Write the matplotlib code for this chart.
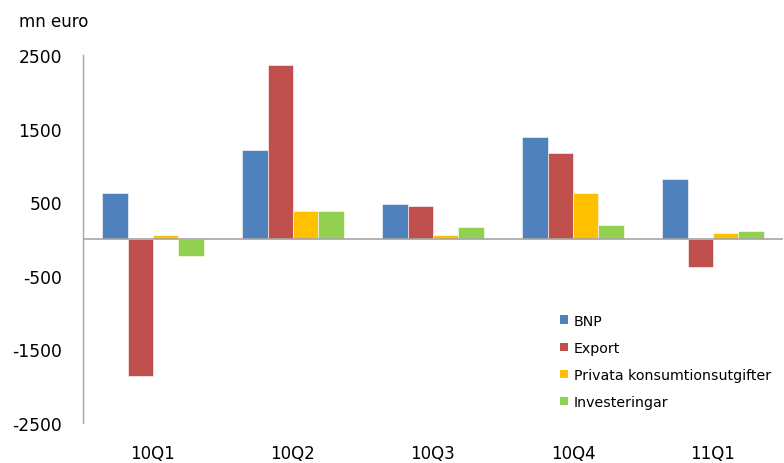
import matplotlib
matplotlib.use("Agg")
import matplotlib.pyplot as plt
import numpy as np
from matplotlib.patches import Patch

categories = ["10Q1", "10Q2", "10Q3", "10Q4", "11Q1"]
series_names = ["BNP", "Export", "Privata konsumtionsutgifter", "Investeringar"]
bnp = [630, 1210, 470, 1390, 820]
export = [-1860, 2370, 450, 1170, -380]
privata = [60, 380, 57, 630, 84]
invest = [-225, 380, 166, 188, 102]
colors = ["#4F81BD", "#C0504D", "#FFC000", "#92D050"]
yticks = [-2500, -1500, -500, 500, 1500, 2500]

fig = plt.figure(figsize=(7.84, 4.64), dpi=100)
ax = fig.add_axes([83/784, 40/464, 700/784, 368/464])

x = np.arange(len(categories))
w = 1 / 5.5
all_series = [bnp, export, privata, invest]
for i, (vals, c) in enumerate(zip(all_series, colors)):
    ax.bar(x + (i - 1.5) * w, vals, width=w, color=c, edgecolor="white", linewidth=0.4, zorder=2)

ax.set_xlim(-0.5, len(categories) - 0.5)
ax.set_ylim(-2500, 2500)
ax.axhline(0, color="#A6A6A6", linewidth=1.2, zorder=3)
ax.set_yticks(yticks)
ax.set_yticklabels([str(v) for v in yticks], fontsize=12.3)
ax.set_xticks(x)
ax.set_xticklabels(categories, fontsize=12)
ax.tick_params(axis="y", length=0, pad=15)
ax.tick_params(axis="x", length=0, pad=15)
for s in ["top", "right", "bottom"]:
    ax.spines[s].set_visible(False)
ax.spines["left"].set_color("#A6A6A6")
ax.spines["left"].set_linewidth(1.0)

fig.text(19/784, 1 - 22/464, "mn euro", fontsize=12, va="center", ha="left")

handles = [Patch(facecolor=c, edgecolor="none") for c in colors]
leg = ax.legend(handles, series_names, loc="upper left", bbox_to_anchor=(547/784, 1 - 302/464),
                bbox_transform=fig.transFigure, frameon=False, fontsize=10.2,
                handlelength=0.55, handleheight=0.55, handletextpad=0.45, labelspacing=0.92)

fig.savefig("out.png", dpi=100)
